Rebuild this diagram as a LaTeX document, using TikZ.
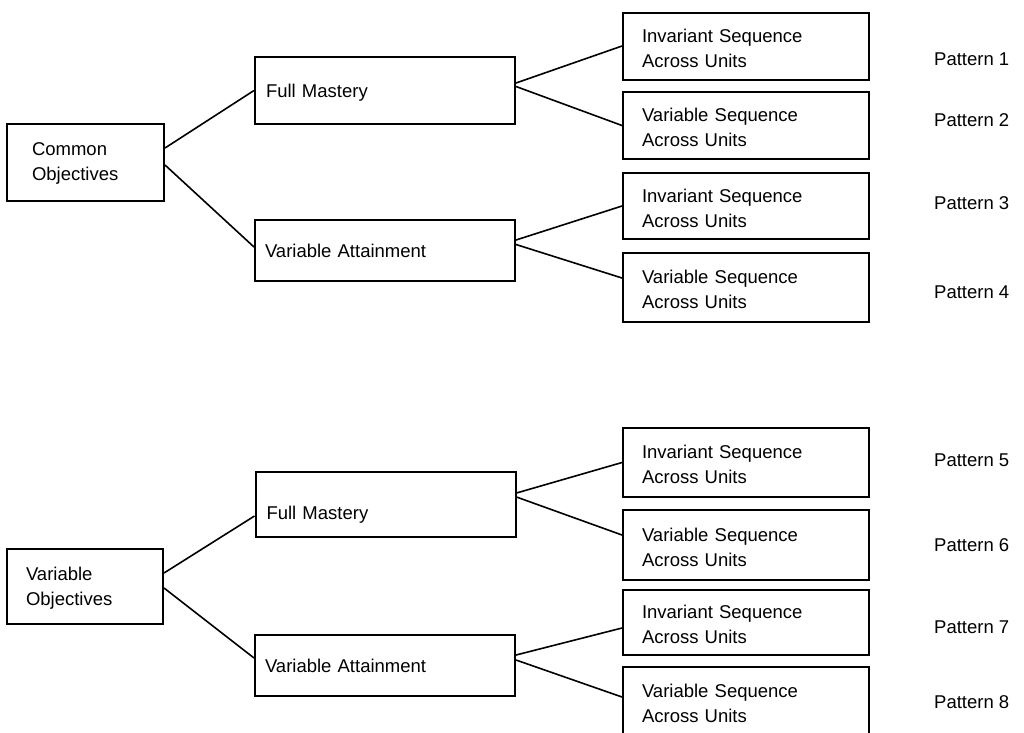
\documentclass[tikz,border=0pt]{standalone}
\usepackage{fontspec}
\setmainfont{Liberation Sans}
\begin{document}
\begin{tikzpicture}[x=1pt,y=-1pt,
  every node/.style={font=\fontsize{18.5}{25}\selectfont},
  box/.style={draw, line width=2pt, rectangle, align=left, inner ysep=0pt,
    text height=13pt, text depth=0pt},
  objbox/.style={box, minimum width=157pt, minimum height=77pt},
  midbox/.style={box, minimum width=260pt, minimum height=65pt,
    inner xsep=11pt, text width=238pt},
  seqbox/.style={box, minimum width=246pt, minimum height=67pt,
    inner xsep=19pt, text width=208pt, text height=13pt, text depth=21pt},
  pat/.style={anchor=west, inner sep=0pt},
  link/.style={line width=1.6pt}]
\useasboundingbox (0,0) rectangle (1024,732);
\clip (0,0) rectangle (1024,732);

% ---- common objectives branch ----
\node[objbox, inner xsep=25pt, text width=107pt, text height=13pt, text depth=26pt]
  (co) at (85.5,162) {Common\\Objectives};
\node[midbox, minimum height=67pt] (fm1) at (385,90.5) {Full Mastery};
\node[midbox, minimum height=61pt, inner xsep=10pt, text width=240pt] (va1) at (385,250.5) {Variable Attainment};

\node[seqbox] (s1) at (746,46)    {Invariant Sequence\\Across Units};
\node[seqbox] (s2) at (746,125.5) {Variable Sequence\\Across Units};
\node[seqbox, minimum height=66pt] (s3) at (746,206) {Invariant Sequence\\Across Units};
\node[seqbox, minimum height=69pt] (s4) at (746,287.5) {Variable Sequence\\Across Units};

\node[pat] (p1) at (934,59)  {Pattern 1};
\node[pat] (p2) at (934,120) {Pattern 2};
\node[pat] (p3) at (934,203) {Pattern 3};
\node[pat] (p4) at (934,292) {Pattern 4};

\draw[link] ([yshift=14pt]co.east) -- (fm1.west);
\draw[link] ([yshift=-3pt]co.east) -- ([yshift=3.5pt]va1.west);
\draw[link] ([yshift=7.5pt]fm1.east) -- (s1.west);
\draw[link] ([yshift=4pt]fm1.east) -- (s2.west);
\draw[link] ([yshift=10.5pt]va1.east) -- (s3.west);
\draw[link] ([yshift=6pt]va1.east) -- ([yshift=9.5pt]s4.west);

% ---- variable objectives branch ----
\node[objbox, minimum width=156pt, minimum height=75pt, inner xsep=19pt,
  text width=118pt, text height=13pt, text depth=26pt]
  (vo) at (85,586.5) {Variable\\Objectives};
\node[midbox, minimum width=259pt, text height=29pt] (fm2) at (385.5,504.5) {Full Mastery};
\node[midbox, minimum height=61pt, inner xsep=10pt, text width=240pt] (va2) at (385,665.5) {Variable Attainment};

\node[seqbox, minimum height=69pt] (s5) at (746,462.5) {Invariant Sequence\\Across Units};
\node[seqbox, minimum height=70pt] (s6) at (746,545)   {Variable Sequence\\Across Units};
\node[seqbox, minimum height=65pt] (s7) at (746,622.5) {Invariant Sequence\\Across Units};
\node[seqbox, minimum height=68pt] (s8) at (746,701)   {Variable Sequence\\Across Units};

\node[pat] (p5) at (934,460) {Pattern 5};
\node[pat] (p6) at (934,545) {Pattern 6};
\node[pat] (p7) at (934,627) {Pattern 7};
\node[pat] (p8) at (934,702) {Pattern 8};

\draw[link] ([yshift=13.5pt]vo.east) -- ([yshift=-11.5pt]fm2.west);
\draw[link] ([yshift=-1.5pt]vo.east) -- ([yshift=7.5pt]va2.west);
\draw[link] ([yshift=11.5pt]fm2.east) -- (s5.west);
\draw[link] ([yshift=7.5pt]fm2.east) -- ([yshift=10pt]s6.west);
\draw[link] ([yshift=10.5pt]va2.east) -- ([yshift=-5.5pt]s7.west);
\draw[link] ([yshift=5.5pt]va2.east) -- ([yshift=4pt]s8.west);
\end{tikzpicture}
\end{document}
